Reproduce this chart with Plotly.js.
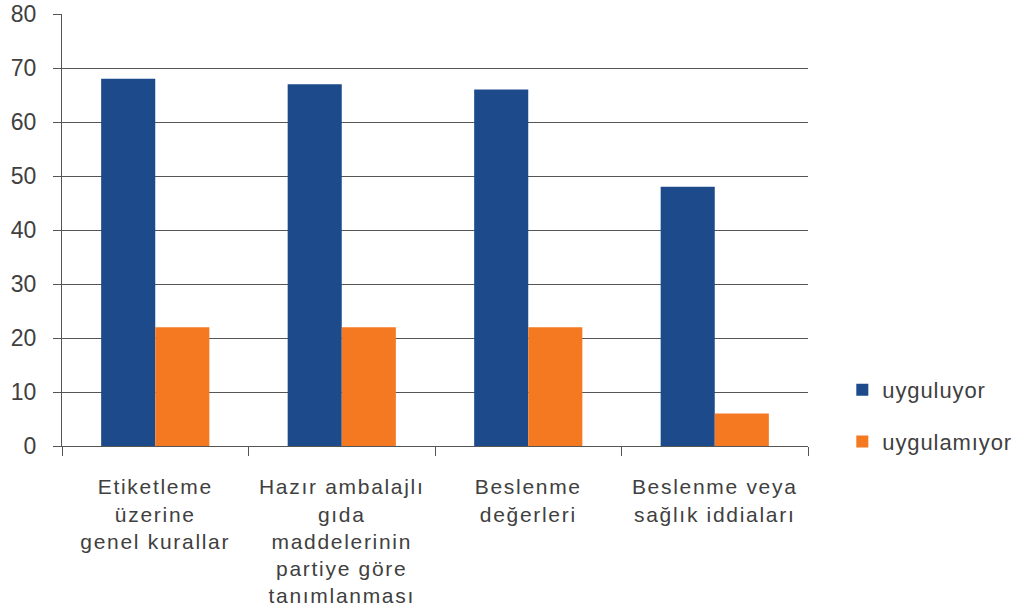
<!DOCTYPE html>
<html><head><meta charset="utf-8">
<script src="https://cdn.plot.ly/plotly-3.0.1.min.js"></script>
<style>
html,body{margin:0;padding:0;background:#fff}
#chart{width:1031px;height:612px}
.xtick text{letter-spacing:1.7px}
.legendtext{letter-spacing:0.9px}
</style>
</head><body><div id="chart"></div>
<script>
const categories = [
  "Etiketleme<br>üzerine<br>genel kurallar",
  "Hazır ambalajlı<br>gıda<br>maddelerinin<br>partiye göre<br>tanımlanması",
  "Beslenme<br>değerleri",
  "Beslenme veya<br>sağlık iddiaları"
];
const uyguluyor = [68, 67, 66, 48];
const uygulamiyor = [22, 22, 22, 6];
const yTicks = [0, 10, 20, 30, 40, 50, 60, 70, 80];

const textColor = "#404040";
const data = [
  {type: "bar", name: "uyguluyor", x: categories, y: uyguluyor,
   marker: {color: "#1c4a8a"}, legendgroup: "a"},
  {type: "bar", name: "uygulamıyor", x: categories, y: uygulamiyor,
   marker: {color: "#f47920"}, legendgroup: "b"}
];
const layout = {
  width: 1031, height: 612,
  margin: {l: 62, r: 223, t: 14, b: 166},
  paper_bgcolor: "#fff", plot_bgcolor: "#fff",
  font: {family: "Liberation Sans, Arial, sans-serif", size: 21, color: textColor},
  barmode: "group", bargap: 0.42, bargroupgap: 0,
  showlegend: true,
  legend: {x: 1.046, y: 0.0694, xanchor: "left", yanchor: "middle",
    tracegroupgap: 20, font: {size: 22, color: textColor}},
  xaxis: {type: "category", tickson: "boundaries", ticks: "outside", ticklen: 9,
    tickcolor: "#555", showline: true, linecolor: "#555", linewidth: 1,
    showgrid: false, tickangle: 0, automargin: false, ticklabelstandoff: 22,
    tickfont: {size: 21}},
  yaxis: {range: [0, 80], tickvals: yTicks, ticks: "outside", ticklen: 8,
    tickcolor: "#555", showline: true, linecolor: "#555", linewidth: 1,
    showgrid: true, gridcolor: "#555", gridwidth: 1, zeroline: false,
    automargin: false, ticklabelstandoff: 12, tickfont: {size: 23}}
};
Plotly.newPlot("chart", data, layout, {displayModeBar: false, staticPlot: true});
</script></body></html>
